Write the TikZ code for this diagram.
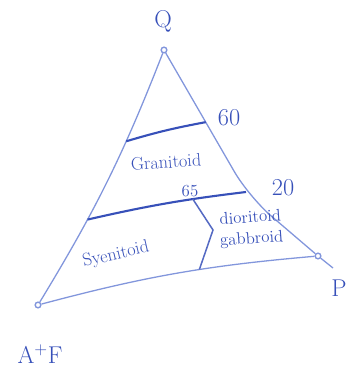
\documentclass[tikz,border=0pt]{standalone}
\usepackage{xcolor}
\usepackage{tikz}
\usetikzlibrary{positioning}
\definecolor{inkpale}{RGB}{130,150,220}
\definecolor{ink}{RGB}{55,80,185}
\tikzset{every node/.style={align=center}}

\begin{document}
\begin{tikzpicture}[x=0.03cm, y=-0.03cm,
    corner/.style={circle, draw=inkpale, line width=1.2pt, inner sep=0pt, minimum size=0.17cm},
    side/.style={draw=inkpale, line width=1.1pt},
    bound/.style={draw=ink, line width=1.8pt},
    split/.style={draw=ink!85, line width=1.3pt},
    lbl/.style={text=ink, font=\huge},
    rock/.style={text=ink, font=\fontsize{15.5}{17}\selectfont}
]
  \useasboundingbox (0,0) rectangle (352,387);

  % --- corners of the triangle ---
  \node[corner] (Q) at (164,50)  {};
  \node[corner] (A) at (38,305)  {};
  \node[corner] (P) at (318,256) {};
  \coordinate (kink) at (249,197);
  \coordinate (r65)  at (246,192);
  \coordinate (Pend) at (333,268);
  \node[lbl] (Qlbl) at (163,21)  {Q};
  \node[lbl] (Plbl) at (339,288) {P};
  \node[lbl] (Albl) at (40,354)  {A$^{+}$F};

  % --- sides ---
  \draw[side] (Q) to[bend left=5] coordinate[pos=0.33] (l60) coordinate[pos=0.67] (l65) (A);
  \draw[side, rounded corners=25pt] (Q) -- coordinate[pos=0.48] (r60) (kink) -- (P);
  \draw[side] (P) -- (Pend);
  \draw[side] (A) to[bend left=5] coordinate[pos=0.59] (d3) (P);

  % --- fields ---
  \draw[bound] (l60) to[bend left=3] (r60);
  \draw[bound] (l65) to[bend left=3] coordinate[pos=0.68] (d1) (r65);
  \coordinate (d2) at (213,230);
  \draw[split] (d1) -- (d2) -- (d3);

  \node[lbl]  (n60) at (229,118) {60};
  \node[lbl]  (n20) at (283,188) {20};
  \node[text=ink, font=\Large] (n65) at (190,191) {65};
  \node[rock, rotate=4]  (gran) at (166,162) {Granitoid};
  \node[rock, rotate=13] (syen) at (116,255) {Syenitoid};
  \node[text=ink, font=\Large, rotate=4, inner sep=1pt] (diab) at (251,229) {dioritoid\\gabbroid};
\end{tikzpicture}
\end{document}
